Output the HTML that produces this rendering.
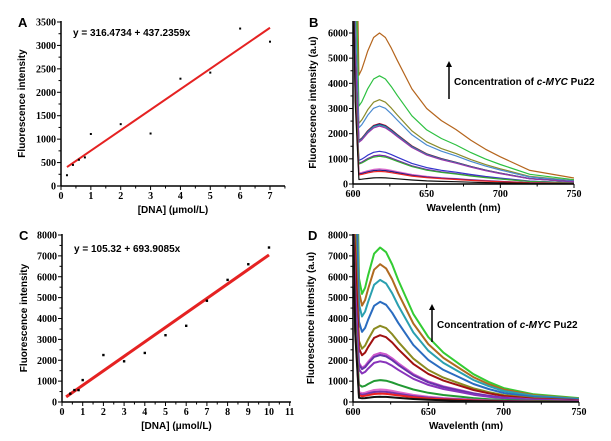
<!DOCTYPE html>
<html><head><meta charset="utf-8">
<style>
body{margin:0;background:#fff;width:611px;height:441px;overflow:hidden}
svg{display:block}
</style></head>
<body>
<svg id="s" width="611" height="441" xmlns="http://www.w3.org/2000/svg"></svg>
<script>
// Panel A data
const aX=[0.2,0.4,0.6,0.8,1,2,3,4,5,6,7];
const aY=[230,450,560,610,1110,1320,1120,2290,2420,3360,3080];
const aFit=[316.4734,437.2359];
// Panel C data
const cX=[0.4,0.6,0.8,1,2,3,4,5,6,7,8,9,10];
const cY=[400,570,570,1050,2250,1950,2350,3200,3650,4850,5850,6600,7400];
const cFit=[105.32,693.9085];
// Spectra shared profile
const wl=[604,606,608,610,614,618,622,626,630,640,650,660,670,680,690,700,720,750];
const profB=[0.72,0.76,0.82,0.88,0.97,1.0,0.97,0.9,0.82,0.63,0.5,0.42,0.36,0.29,0.23,0.18,0.09,0.04];
const profD=[0.8,0.7,0.74,0.82,0.96,1.0,0.97,0.89,0.79,0.57,0.42,0.32,0.25,0.18,0.13,0.09,0.05,0.025];
const bPeaks=[6000,4300,3350,3100,2400,2380,2350,2300,1300,1150,1100,600,550,500,250];
const bColors=["#b5651d","#2cc040","#8b8b2a","#4a8ad0","#cc1111","#222288","#229999","#9933aa","#3333cc","#7722aa","#33aa33","#dd66cc","#222288","#ee2222","#111111"];
const dPeaks=[7400,6600,5850,4800,3650,3200,2350,2250,1950,1050,600,500,400,250];
const dColors=["#33cc33","#b06a20","#2aa0b0","#2a6cc0","#8b8b20","#a01010","#cc55cc","#6633aa","#8833bb","#229933","#dd66cc","#7733aa","#ee2222","#111111"];

const S=document.getElementById('s');
const NS="http://www.w3.org/2000/svg";
const FONTS={tk:['Liberation Serif, serif','bold',10],tt:['Liberation Sans, sans-serif','bold',10],pl:['Liberation Sans, sans-serif','bold',13]};
function mk(t,a,p){const e=document.createElementNS(NS,t);for(const k in a)e.setAttribute(k,a[k]);(p||S).appendChild(e);return e;}
function txt(x,y,s,cls,anchor,p){const f=FONTS[cls];const e=mk('text',{x:x,y:y,'font-family':f[0],'font-weight':f[1],'font-size':f[2],'text-anchor':anchor||'middle'},p);e.textContent=s;return e;}

function axes(o){
  const g=mk('g',{});
  
  
  const X=v=>o.x0+(v-o.xmin)/(o.xmax-o.xmin)*(o.x1-o.x0);
  const Y=v=>o.y0-(v-o.ymin)/(o.ymax-o.ymin)*(o.y0-o.y1);
  mk('line',{x1:o.x0,y1:o.y0,x2:o.xend,y2:o.y0,stroke:'#000','stroke-width':1.5},g);
  mk('line',{x1:o.x0,y1:o.y0,x2:o.x0,y2:o.yend,stroke:'#000','stroke-width':1.5},g);
  o.xt.forEach(v=>{mk('line',{x1:X(v),y1:o.y0,x2:X(v),y2:o.y0+4,stroke:'#000'},g);txt(X(v),o.y0+13,String(v),'tk','middle',g);});
  o.xm.forEach(v=>{mk('line',{x1:X(v),y1:o.y0,x2:X(v),y2:o.y0+2.5,stroke:'#000'},g);});
  o.yt.forEach(v=>{mk('line',{x1:o.x0,y1:Y(v),x2:o.x0-4,y2:Y(v),stroke:'#000'},g);txt(o.x0-5,Y(v)+3.5,String(v),'tk','end',g);});
  o.ym.forEach(v=>{mk('line',{x1:o.x0,y1:Y(v),x2:o.x0-2.5,y2:Y(v),stroke:'#000'},g);});
  const xt=txt((o.x0+o.xend)/2,o.y0+27,o.xtitle,'tt','middle',g);
  
  const yt=txt(0,0,o.ytitle,'tt','middle',g);
  yt.setAttribute('transform','translate('+o.ytx+','+((o.y0+o.yend)/2)+') rotate(-90)');
  
  const pl=txt(o.plx,o.ply,o.letter,'pl','start',g);
  
  return {X,Y,g};
}
function rng(a,b,s){const r=[];for(let v=a;v<=b+1e-9;v+=s)r.push(Math.round(v*100)/100);return r;}

// Panel A
(function(){
  const A=axes({name:'panel-a',x0:61,x1:270,xmin:0,xmax:7,xend:285,y0:186,y1:22,ymin:0,ymax:3500,yend:21,
    xt:rng(0,7,1),xm:rng(0.5,7.5,1),yt:rng(0,3500,500),ym:rng(250,3250,500),
    xtitle:'[DNA] (μmol/L)',ytitle:'Fluorescence intensity',ytx:25,letter:'A',plx:18,ply:27});
  const l=mk('line',{x1:A.X(0.2),y1:A.Y(aFit[0]+aFit[1]*0.2),x2:A.X(7),y2:A.Y(aFit[0]+aFit[1]*7),stroke:'#e52222','stroke-width':2},A.g);
  
  aX.forEach((x,i)=>{const c=mk('rect',{x:A.X(x)-1,y:A.Y(aY[i])-1,width:2,height:2,fill:'#000'},A.g);});
  const e=txt(73,36,'y = '+aFit[0]+' + '+aFit[1]+'x','tt','start',A.g);
  
})();
// Panel C
(function(){
  const C=axes({name:'panel-c',x0:62,x1:269,xmin:0,xmax:10,xend:291,y0:402,y1:235,ymin:0,ymax:8000,yend:234,
    xt:rng(0,11,1),xm:rng(0.5,10.5,1),yt:rng(0,8000,1000),ym:rng(500,7500,1000),
    xtitle:'[DNA] (μmol/L)',ytitle:'Fluorescence intensity',ytx:27,letter:'C',plx:19,ply:240});
  const l=mk('line',{x1:C.X(0.2),y1:C.Y(cFit[0]+cFit[1]*0.2),x2:C.X(10),y2:C.Y(cFit[0]+cFit[1]*10),stroke:'#e52222','stroke-width':3},C.g);
  
  cX.forEach((x,i)=>{const c=mk('rect',{x:C.X(x)-1.2,y:C.Y(cY[i])-1.2,width:2.4,height:2.4,fill:'#000'},C.g);});
  const e=txt(74,252,'y = '+cFit[0]+' + '+cFit[1]+'x','tt','start',C.g);
  
})();
// Spectra
function spectra(o,peaks,colors,prof,sw,cid){
  const P=axes(o);
  const cp=mk('clipPath',{id:cid},P.g);
  mk('rect',{x:o.x0,y:o.yend,width:o.xend-o.x0,height:o.y0-o.yend},cp);
  peaks.forEach((pk,i)=>{
    let d='M'+P.X(600)+','+P.Y(9000)+' L'+P.X(601.5)+','+P.Y(Math.max(pk*2.2,pk+3000));
    wl.forEach((w,j)=>{d+=' L'+P.X(w).toFixed(1)+','+P.Y(pk*prof[j]).toFixed(1);});
    const p=mk('path',{d:d,fill:'none',stroke:colors[i],'stroke-width':sw,'clip-path':'url(#'+cid+')','stroke-linejoin':'round'},P.g);
    
  });
  const ar=mk('line',{x1:o.arx,y1:o.ary+38,x2:o.arx,y2:o.ary+4,stroke:'#000','stroke-width':1.5},P.g);
  
  mk('polygon',{points:(o.arx-3)+','+(o.ary+6)+' '+(o.arx+3)+','+(o.ary+6)+' '+o.arx+','+o.ary},P.g);
  const t=txt(o.arx+5,o.ary+24,'','tt','start',P.g);
  
  t.innerHTML='Concentration of <tspan font-style="italic">c-MYC</tspan> Pu22';
}
spectra({name:'panel-b',x0:353,x1:574,xmin:600,xmax:750,xend:574,y0:184,y1:33,ymin:0,ymax:6000,yend:21,
  xt:rng(600,750,50),xm:rng(625,725,50),yt:rng(0,6000,1000),ym:rng(500,5500,1000),
  xtitle:'Wavelenth (nm)',ytitle:'Fluorescence intensity (a.u)',ytx:316,letter:'B',plx:309,ply:27,arx:449,ary:61},
  bPeaks,bColors,profB,1.2,'cb');
spectra({name:'panel-d',x0:353,x1:579,xmin:600,xmax:750,xend:579,y0:402,y1:235,ymin:0,ymax:8000,yend:234,
  xt:rng(600,750,50),xm:rng(625,725,50),yt:rng(0,8000,1000),ym:rng(500,7500,1000),
  xtitle:'Wavelenth (nm)',ytitle:'Fluorescence intensity (a.u)',ytx:314,letter:'D',plx:308,ply:240,arx:432,ary:304},
  dPeaks,dColors,profD,2,'cd');
</script>
</body></html>
